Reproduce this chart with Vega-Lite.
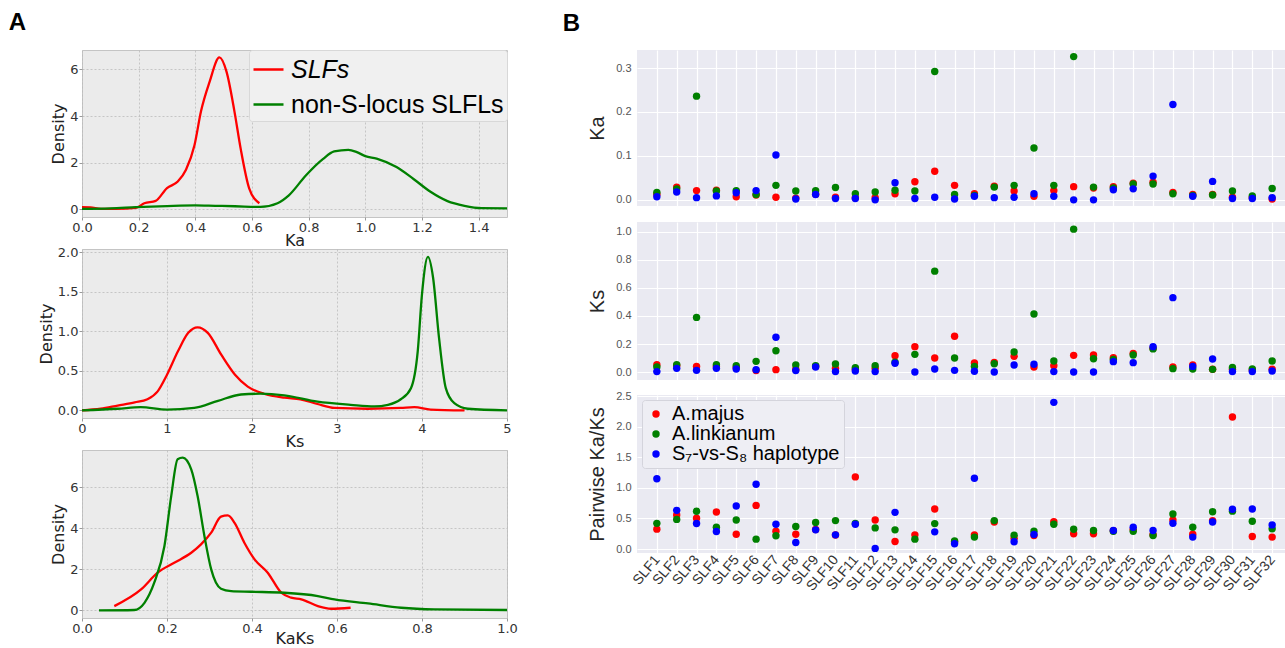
{
  "$schema": "https://vega.github.io/schema/vega-lite/v6.json",
  "padding": {"left": 8, "top": 11, "right": 2, "bottom": 0},
  "background": "white",
  "config": {
    "view": {"stroke": null},
    "font": "Liberation Sans",
    "axis": {
      "labelFont": "DejaVu Sans", "labelFontSize": 13, "labelColor": "#333333",
      "titleFont": "DejaVu Sans", "titleFontSize": 16, "titleFontWeight": "normal", "titleColor": "#222222",
      "labelPadding": 1, "tickSize": 3, "tickColor": "#999999", "domain": false,
      "gridColor": "#bbbbbb", "gridDash": [2, 2], "gridWidth": 0.8,
      "labelFlush": false, "labelOverlap": false
    },
    "axisX": {"titlePadding": -2},
    "axisY": {"titlePadding": 3}
  },
  "datasets": {
    "dens": [
      {"v":"Ka","g":"SLFs","x":0,"d":0.09},{"v":"Ka","g":"SLFs","x":0.03,"d":0.08},{"v":"Ka","g":"SLFs","x":0.067,"d":0.02},{"v":"Ka","g":"SLFs","x":0.12,"d":0.02},{"v":"Ka","g":"SLFs","x":0.19,"d":0.06},{"v":"Ka","g":"SLFs","x":0.22,"d":0.26},{"v":"Ka","g":"SLFs","x":0.26,"d":0.36},{"v":"Ka","g":"SLFs","x":0.30,"d":0.91},{"v":"Ka","g":"SLFs","x":0.338,"d":1.19},{"v":"Ka","g":"SLFs","x":0.367,"d":1.7},{"v":"Ka","g":"SLFs","x":0.397,"d":2.75},{"v":"Ka","g":"SLFs","x":0.42,"d":4.2},{"v":"Ka","g":"SLFs","x":0.45,"d":5.45},{"v":"Ka","g":"SLFs","x":0.485,"d":6.51},{"v":"Ka","g":"SLFs","x":0.51,"d":5.9},{"v":"Ka","g":"SLFs","x":0.538,"d":4.2},{"v":"Ka","g":"SLFs","x":0.56,"d":2.6},{"v":"Ka","g":"SLFs","x":0.59,"d":0.9},{"v":"Ka","g":"SLFs","x":0.626,"d":0.26},
      {"v":"Ka","g":"non-S-locus SLFLs","x":0,"d":0.02},{"v":"Ka","g":"non-S-locus SLFLs","x":0.1,"d":0.04},{"v":"Ka","g":"non-S-locus SLFLs","x":0.19,"d":0.09},{"v":"Ka","g":"non-S-locus SLFLs","x":0.3,"d":0.14},{"v":"Ka","g":"non-S-locus SLFLs","x":0.4,"d":0.17},{"v":"Ka","g":"non-S-locus SLFLs","x":0.47,"d":0.15},{"v":"Ka","g":"non-S-locus SLFLs","x":0.54,"d":0.13},{"v":"Ka","g":"non-S-locus SLFLs","x":0.63,"d":0.1},{"v":"Ka","g":"non-S-locus SLFLs","x":0.69,"d":0.26},{"v":"Ka","g":"non-S-locus SLFLs","x":0.73,"d":0.6},{"v":"Ka","g":"non-S-locus SLFLs","x":0.79,"d":1.45},{"v":"Ka","g":"non-S-locus SLFLs","x":0.85,"d":2.15},{"v":"Ka","g":"non-S-locus SLFLs","x":0.89,"d":2.48},{"v":"Ka","g":"non-S-locus SLFLs","x":0.94,"d":2.55},{"v":"Ka","g":"non-S-locus SLFLs","x":0.97,"d":2.45},{"v":"Ka","g":"non-S-locus SLFLs","x":1.0,"d":2.28},{"v":"Ka","g":"non-S-locus SLFLs","x":1.04,"d":2.17},{"v":"Ka","g":"non-S-locus SLFLs","x":1.11,"d":1.81},{"v":"Ka","g":"non-S-locus SLFLs","x":1.17,"d":1.3},{"v":"Ka","g":"non-S-locus SLFLs","x":1.23,"d":0.75},{"v":"Ka","g":"non-S-locus SLFLs","x":1.29,"d":0.35},{"v":"Ka","g":"non-S-locus SLFLs","x":1.35,"d":0.15},{"v":"Ka","g":"non-S-locus SLFLs","x":1.41,"d":0.05},{"v":"Ka","g":"non-S-locus SLFLs","x":1.5,"d":0.04},
      {"v":"Ks","g":"SLFs","x":0,"d":0},{"v":"Ks","g":"SLFs","x":0.22,"d":0.02},{"v":"Ks","g":"SLFs","x":0.42,"d":0.06},{"v":"Ks","g":"SLFs","x":0.62,"d":0.1},{"v":"Ks","g":"SLFs","x":0.77,"d":0.14},{"v":"Ks","g":"SLFs","x":0.89,"d":0.24},{"v":"Ks","g":"SLFs","x":1.0,"d":0.45},{"v":"Ks","g":"SLFs","x":1.13,"d":0.75},{"v":"Ks","g":"SLFs","x":1.25,"d":0.98},{"v":"Ks","g":"SLFs","x":1.36,"d":1.05},{"v":"Ks","g":"SLFs","x":1.48,"d":0.98},{"v":"Ks","g":"SLFs","x":1.64,"d":0.7},{"v":"Ks","g":"SLFs","x":1.8,"d":0.45},{"v":"Ks","g":"SLFs","x":1.95,"d":0.3},{"v":"Ks","g":"SLFs","x":2.14,"d":0.21},{"v":"Ks","g":"SLFs","x":2.38,"d":0.16},{"v":"Ks","g":"SLFs","x":2.57,"d":0.14},{"v":"Ks","g":"SLFs","x":2.77,"d":0.08},{"v":"Ks","g":"SLFs","x":2.97,"d":0.03},{"v":"Ks","g":"SLFs","x":3.36,"d":0.02},{"v":"Ks","g":"SLFs","x":3.75,"d":0.03},{"v":"Ks","g":"SLFs","x":3.91,"d":0.04},{"v":"Ks","g":"SLFs","x":4.1,"d":0.01},{"v":"Ks","g":"SLFs","x":4.5,"d":0.0},
      {"v":"Ks","g":"non-S-locus SLFLs","x":0,"d":0},{"v":"Ks","g":"non-S-locus SLFLs","x":0.42,"d":0.02},{"v":"Ks","g":"non-S-locus SLFLs","x":0.69,"d":0.04},{"v":"Ks","g":"non-S-locus SLFLs","x":1.0,"d":0.01},{"v":"Ks","g":"non-S-locus SLFLs","x":1.32,"d":0.03},{"v":"Ks","g":"non-S-locus SLFLs","x":1.6,"d":0.12},{"v":"Ks","g":"non-S-locus SLFLs","x":1.87,"d":0.2},{"v":"Ks","g":"non-S-locus SLFLs","x":2.1,"d":0.21},{"v":"Ks","g":"non-S-locus SLFLs","x":2.38,"d":0.19},{"v":"Ks","g":"non-S-locus SLFLs","x":2.77,"d":0.11},{"v":"Ks","g":"non-S-locus SLFLs","x":3.16,"d":0.07},{"v":"Ks","g":"non-S-locus SLFLs","x":3.44,"d":0.05},{"v":"Ks","g":"non-S-locus SLFLs","x":3.6,"d":0.07},{"v":"Ks","g":"non-S-locus SLFLs","x":3.75,"d":0.14},{"v":"Ks","g":"non-S-locus SLFLs","x":3.87,"d":0.28},{"v":"Ks","g":"non-S-locus SLFLs","x":3.95,"d":0.75},{"v":"Ks","g":"non-S-locus SLFLs","x":4.0,"d":1.47},{"v":"Ks","g":"non-S-locus SLFLs","x":4.07,"d":1.94},{"v":"Ks","g":"non-S-locus SLFLs","x":4.13,"d":1.68},{"v":"Ks","g":"non-S-locus SLFLs","x":4.2,"d":0.92},{"v":"Ks","g":"non-S-locus SLFLs","x":4.28,"d":0.28},{"v":"Ks","g":"non-S-locus SLFLs","x":4.38,"d":0.09},{"v":"Ks","g":"non-S-locus SLFLs","x":4.54,"d":0.02},{"v":"Ks","g":"non-S-locus SLFLs","x":5.0,"d":0.0},
      {"v":"KaKs","g":"SLFs","x":0.076,"d":0.21},{"v":"KaKs","g":"SLFs","x":0.139,"d":1.02},{"v":"KaKs","g":"SLFs","x":0.178,"d":1.84},{"v":"KaKs","g":"SLFs","x":0.217,"d":2.32},{"v":"KaKs","g":"SLFs","x":0.257,"d":2.81},{"v":"KaKs","g":"SLFs","x":0.28,"d":3.22},{"v":"KaKs","g":"SLFs","x":0.304,"d":3.79},{"v":"KaKs","g":"SLFs","x":0.327,"d":4.57},{"v":"KaKs","g":"SLFs","x":0.343,"d":4.63},{"v":"KaKs","g":"SLFs","x":0.359,"d":4.27},{"v":"KaKs","g":"SLFs","x":0.382,"d":3.3},{"v":"KaKs","g":"SLFs","x":0.406,"d":2.49},{"v":"KaKs","g":"SLFs","x":0.437,"d":1.84},{"v":"KaKs","g":"SLFs","x":0.469,"d":0.86},{"v":"KaKs","g":"SLFs","x":0.492,"d":0.62},{"v":"KaKs","g":"SLFs","x":0.516,"d":0.54},{"v":"KaKs","g":"SLFs","x":0.555,"d":0.21},{"v":"KaKs","g":"SLFs","x":0.586,"d":0.08},{"v":"KaKs","g":"SLFs","x":0.632,"d":0.13},
      {"v":"KaKs","g":"non-S-locus SLFLs","x":0.04,"d":0},{"v":"KaKs","g":"non-S-locus SLFLs","x":0.123,"d":0.02},{"v":"KaKs","g":"non-S-locus SLFLs","x":0.147,"d":0.37},{"v":"KaKs","g":"non-S-locus SLFLs","x":0.17,"d":1.35},{"v":"KaKs","g":"non-S-locus SLFLs","x":0.194,"d":3.14},{"v":"KaKs","g":"non-S-locus SLFLs","x":0.21,"d":5.58},{"v":"KaKs","g":"non-S-locus SLFLs","x":0.225,"d":7.37},{"v":"KaKs","g":"non-S-locus SLFLs","x":0.237,"d":7.45},{"v":"KaKs","g":"non-S-locus SLFLs","x":0.257,"d":6.88},{"v":"KaKs","g":"non-S-locus SLFLs","x":0.272,"d":5.58},{"v":"KaKs","g":"non-S-locus SLFLs","x":0.288,"d":3.63},{"v":"KaKs","g":"non-S-locus SLFLs","x":0.304,"d":2.0},{"v":"KaKs","g":"non-S-locus SLFLs","x":0.327,"d":1.06},{"v":"KaKs","g":"non-S-locus SLFLs","x":0.351,"d":0.94},{"v":"KaKs","g":"non-S-locus SLFLs","x":0.398,"d":0.91},{"v":"KaKs","g":"non-S-locus SLFLs","x":0.476,"d":0.86},{"v":"KaKs","g":"non-S-locus SLFLs","x":0.555,"d":0.7},{"v":"KaKs","g":"non-S-locus SLFLs","x":0.594,"d":0.54},{"v":"KaKs","g":"non-S-locus SLFLs","x":0.673,"d":0.34},{"v":"KaKs","g":"non-S-locus SLFLs","x":0.751,"d":0.13},{"v":"KaKs","g":"non-S-locus SLFLs","x":0.829,"d":0.05},{"v":"KaKs","g":"non-S-locus SLFLs","x":1.0,"d":0.02}
    ],
    "pts": [
      {"slf":"SLF1","s":"A.majus","Ka":0.012,"Ks":0.052,"KaKs":0.325},{"slf":"SLF1","s":"A.linkianum","Ka":0.017,"Ks":0.036,"KaKs":0.42},{"slf":"SLF1","s":"S₇-vs-S₈ haplotype","Ka":0.007,"Ks":0.003,"KaKs":1.15},
      {"slf":"SLF2","s":"A.majus","Ka":0.029,"Ks":0.045,"KaKs":0.556},{"slf":"SLF2","s":"A.linkianum","Ka":0.025,"Ks":0.052,"KaKs":0.485},{"slf":"SLF2","s":"S₇-vs-S₈ haplotype","Ka":0.018,"Ks":0.026,"KaKs":0.633},
      {"slf":"SLF3","s":"A.majus","Ka":0.021,"Ks":0.04,"KaKs":0.503},{"slf":"SLF3","s":"A.linkianum","Ka":0.236,"Ks":0.39,"KaKs":0.617},{"slf":"SLF3","s":"S₇-vs-S₈ haplotype","Ka":0.005,"Ks":0.012,"KaKs":0.417},
      {"slf":"SLF4","s":"A.majus","Ka":0.022,"Ks":0.04,"KaKs":0.606},{"slf":"SLF4","s":"A.linkianum","Ka":0.02,"Ks":0.052,"KaKs":0.357},{"slf":"SLF4","s":"S₇-vs-S₈ haplotype","Ka":0.009,"Ks":0.026,"KaKs":0.286},
      {"slf":"SLF5","s":"A.majus","Ka":0.007,"Ks":0.03,"KaKs":0.243},{"slf":"SLF5","s":"A.linkianum","Ka":0.021,"Ks":0.045,"KaKs":0.476},{"slf":"SLF5","s":"S₇-vs-S₈ haplotype","Ka":0.016,"Ks":0.021,"KaKs":0.703},
      {"slf":"SLF6","s":"A.majus","Ka":0.011,"Ks":0.01,"KaKs":0.714},{"slf":"SLF6","s":"A.linkianum","Ka":0.012,"Ks":0.076,"KaKs":0.162},{"slf":"SLF6","s":"S₇-vs-S₈ haplotype","Ka":0.021,"Ks":0.017,"KaKs":1.06},
      {"slf":"SLF7","s":"A.majus","Ka":0.006,"Ks":0.017,"KaKs":0.292},{"slf":"SLF7","s":"A.linkianum","Ka":0.033,"Ks":0.152,"KaKs":0.216},{"slf":"SLF7","s":"S₇-vs-S₈ haplotype","Ka":0.102,"Ks":0.248,"KaKs":0.406},
      {"slf":"SLF8","s":"A.majus","Ka":0.004,"Ks":0.02,"KaKs":0.243},{"slf":"SLF8","s":"A.linkianum","Ka":0.02,"Ks":0.05,"KaKs":0.368},{"slf":"SLF8","s":"S₇-vs-S₈ haplotype","Ka":0.002,"Ks":0.01,"KaKs":0.108},
      {"slf":"SLF9","s":"A.majus","Ka":0.013,"Ks":0.04,"KaKs":0.32},{"slf":"SLF9","s":"A.linkianum","Ka":0.021,"Ks":0.045,"KaKs":0.433},{"slf":"SLF9","s":"S₇-vs-S₈ haplotype","Ka":0.012,"Ks":0.036,"KaKs":0.314},
      {"slf":"SLF10","s":"A.majus","Ka":0.006,"Ks":0.026,"KaKs":0.23},{"slf":"SLF10","s":"A.linkianum","Ka":0.028,"Ks":0.057,"KaKs":0.465},{"slf":"SLF10","s":"S₇-vs-S₈ haplotype","Ka":0.003,"Ks":0.003,"KaKs":0.232},
      {"slf":"SLF11","s":"A.majus","Ka":0.005,"Ks":0.02,"KaKs":1.18},{"slf":"SLF11","s":"A.linkianum","Ka":0.014,"Ks":0.031,"KaKs":0.42},{"slf":"SLF11","s":"S₇-vs-S₈ haplotype","Ka":0.003,"Ks":0.007,"KaKs":0.406},
      {"slf":"SLF12","s":"A.majus","Ka":0.005,"Ks":0.026,"KaKs":0.476},{"slf":"SLF12","s":"A.linkianum","Ka":0.018,"Ks":0.045,"KaKs":0.346},{"slf":"SLF12","s":"S₇-vs-S₈ haplotype","Ka":0.0,"Ks":0.003,"KaKs":0.01},
      {"slf":"SLF13","s":"A.majus","Ka":0.014,"Ks":0.117,"KaKs":0.124},{"slf":"SLF13","s":"A.linkianum","Ka":0.022,"Ks":0.07,"KaKs":0.314},{"slf":"SLF13","s":"S₇-vs-S₈ haplotype","Ka":0.039,"Ks":0.062,"KaKs":0.6},
      {"slf":"SLF14","s":"A.majus","Ka":0.041,"Ks":0.181,"KaKs":0.232},{"slf":"SLF14","s":"A.linkianum","Ka":0.02,"Ks":0.126,"KaKs":0.162},{"slf":"SLF14","s":"S₇-vs-S₈ haplotype","Ka":0.003,"Ks":0.0,"KaKs":null},
      {"slf":"SLF15","s":"A.majus","Ka":0.065,"Ks":0.1,"KaKs":0.654},{"slf":"SLF15","s":"A.linkianum","Ka":0.292,"Ks":0.72,"KaKs":0.416},{"slf":"SLF15","s":"S₇-vs-S₈ haplotype","Ka":0.006,"Ks":0.021,"KaKs":0.281},
      {"slf":"SLF16","s":"A.majus","Ka":0.033,"Ks":0.255,"KaKs":0.12},{"slf":"SLF16","s":"A.linkianum","Ka":0.012,"Ks":0.1,"KaKs":0.13},{"slf":"SLF16","s":"S₇-vs-S₈ haplotype","Ka":0.002,"Ks":0.012,"KaKs":0.085},
      {"slf":"SLF17","s":"A.majus","Ka":0.014,"Ks":0.064,"KaKs":0.232},{"slf":"SLF17","s":"A.linkianum","Ka":0.01,"Ks":0.04,"KaKs":0.195},{"slf":"SLF17","s":"S₇-vs-S₈ haplotype","Ka":0.008,"Ks":0.005,"KaKs":1.157},
      {"slf":"SLF18","s":"A.majus","Ka":0.031,"Ks":0.069,"KaKs":0.443},{"slf":"SLF18","s":"A.linkianum","Ka":0.029,"Ks":0.059,"KaKs":0.465},{"slf":"SLF18","s":"S₇-vs-S₈ haplotype","Ka":0.005,"Ks":0.0,"KaKs":null},
      {"slf":"SLF19","s":"A.majus","Ka":0.02,"Ks":0.112,"KaKs":0.178},{"slf":"SLF19","s":"A.linkianum","Ka":0.033,"Ks":0.143,"KaKs":0.227},{"slf":"SLF19","s":"S₇-vs-S₈ haplotype","Ka":0.006,"Ks":0.05,"KaKs":0.119},
      {"slf":"SLF20","s":"A.majus","Ka":0.008,"Ks":0.036,"KaKs":0.22},{"slf":"SLF20","s":"A.linkianum","Ka":0.118,"Ks":0.414,"KaKs":0.292},{"slf":"SLF20","s":"S₇-vs-S₈ haplotype","Ka":0.014,"Ks":0.055,"KaKs":0.238},
      {"slf":"SLF21","s":"A.majus","Ka":0.021,"Ks":0.045,"KaKs":0.449},{"slf":"SLF21","s":"A.linkianum","Ka":0.033,"Ks":0.079,"KaKs":0.406},{"slf":"SLF21","s":"S₇-vs-S₈ haplotype","Ka":0.008,"Ks":0.003,"KaKs":2.4},
      {"slf":"SLF22","s":"A.majus","Ka":0.03,"Ks":0.119,"KaKs":0.249},{"slf":"SLF22","s":"A.linkianum","Ka":0.326,"Ks":1.02,"KaKs":0.324},{"slf":"SLF22","s":"S₇-vs-S₈ haplotype","Ka":0.0,"Ks":0.0,"KaKs":null},
      {"slf":"SLF23","s":"A.majus","Ka":0.027,"Ks":0.121,"KaKs":0.249},{"slf":"SLF23","s":"A.linkianum","Ka":0.029,"Ks":0.095,"KaKs":0.303},{"slf":"SLF23","s":"S₇-vs-S₈ haplotype","Ka":0.0,"Ks":0.0,"KaKs":null},
      {"slf":"SLF24","s":"A.majus","Ka":0.03,"Ks":0.102,"KaKs":0.3},{"slf":"SLF24","s":"A.linkianum","Ka":0.027,"Ks":0.09,"KaKs":0.29},{"slf":"SLF24","s":"S₇-vs-S₈ haplotype","Ka":0.023,"Ks":0.074,"KaKs":0.303},
      {"slf":"SLF25","s":"A.majus","Ka":0.038,"Ks":0.133,"KaKs":0.32},{"slf":"SLF25","s":"A.linkianum","Ka":0.036,"Ks":0.121,"KaKs":0.292},{"slf":"SLF25","s":"S₇-vs-S₈ haplotype","Ka":0.025,"Ks":0.067,"KaKs":0.357},
      {"slf":"SLF26","s":"A.majus","Ka":0.04,"Ks":0.17,"KaKs":0.235},{"slf":"SLF26","s":"A.linkianum","Ka":0.036,"Ks":0.165,"KaKs":0.222},{"slf":"SLF26","s":"S₇-vs-S₈ haplotype","Ka":0.054,"Ks":0.181,"KaKs":0.303},
      {"slf":"SLF27","s":"A.majus","Ka":0.017,"Ks":0.036,"KaKs":0.476},{"slf":"SLF27","s":"A.linkianum","Ka":0.014,"Ks":0.024,"KaKs":0.573},{"slf":"SLF27","s":"S₇-vs-S₈ haplotype","Ka":0.217,"Ks":0.531,"KaKs":0.422},
      {"slf":"SLF28","s":"A.majus","Ka":0.012,"Ks":0.05,"KaKs":0.243},{"slf":"SLF28","s":"A.linkianum","Ka":0.01,"Ks":0.021,"KaKs":0.357},{"slf":"SLF28","s":"S₇-vs-S₈ haplotype","Ka":0.008,"Ks":0.04,"KaKs":0.195},
      {"slf":"SLF29","s":"A.majus","Ka":0.012,"Ks":0.02,"KaKs":0.465},{"slf":"SLF29","s":"A.linkianum","Ka":0.011,"Ks":0.019,"KaKs":0.611},{"slf":"SLF29","s":"S₇-vs-S₈ haplotype","Ka":0.042,"Ks":0.093,"KaKs":0.443},
      {"slf":"SLF30","s":"A.majus","Ka":0.006,"Ks":0.02,"KaKs":2.16},{"slf":"SLF30","s":"A.linkianum","Ka":0.02,"Ks":0.033,"KaKs":0.62},{"slf":"SLF30","s":"S₇-vs-S₈ haplotype","Ka":0.003,"Ks":0.003,"KaKs":0.65},
      {"slf":"SLF31","s":"A.majus","Ka":0.005,"Ks":0.015,"KaKs":0.205},{"slf":"SLF31","s":"A.linkianum","Ka":0.009,"Ks":0.021,"KaKs":0.454},{"slf":"SLF31","s":"S₇-vs-S₈ haplotype","Ka":0.003,"Ks":0.003,"KaKs":0.654},
      {"slf":"SLF32","s":"A.majus","Ka":0.002,"Ks":0.02,"KaKs":0.195},{"slf":"SLF32","s":"A.linkianum","Ka":0.026,"Ks":0.079,"KaKs":0.33},{"slf":"SLF32","s":"S₇-vs-S₈ haplotype","Ka":0.005,"Ks":0.007,"KaKs":0.395}
    ]
  },
  "spacing": 44,
  "hconcat": [
    {
      "title": {"text": "A", "anchor": "start", "frame": "bounds", "fontSize": 24, "fontWeight": "bold", "font": "Liberation Sans", "color": "black", "offset": 14, "dx": -29},
      "spacing": -4,
      "resolve": {"scale": {"color": "independent"}, "legend": {"color": "independent"}},
      "vconcat": [
        {
          "width": 425, "height": 167,
          "view": {"fill": "#ebebeb", "stroke": "#c4c4c4"},
          "data": {"name": "dens"},
          "transform": [{"filter": "datum.v === 'Ka'"}],
          "mark": {"type": "line", "interpolate": "monotone", "strokeWidth": 2.3},
          "encoding": {
            "x": {"field": "x", "type": "quantitative", "scale": {"domain": [0, 1.5], "nice": false, "zero": false}, "axis": {"title": "Ka", "values": [0, 0.2, 0.4, 0.6, 0.8, 1.0, 1.2, 1.4], "format": ".1f"}},
            "y": {"field": "d", "type": "quantitative", "scale": {"domain": [-0.33, 6.83], "nice": false, "zero": false}, "axis": {"title": "Density", "values": [0, 2, 4, 6], "format": "d"}},
            "color": {"field": "g", "type": "nominal", "sort": null, "scale": {"domain": ["SLFs", "non-S-locus SLFLs"], "range": ["#ff0000", "#008000"]},
              "legend": {"title": null, "orient": "top-right", "offset": 0, "symbolType": "stroke", "symbolSize": 900, "symbolStrokeWidth": 2.5, "labelFontSize": 25, "labelFont": "Liberation Sans", "labelColor": "black", "labelLimit": 400, "labelOffset": 6, "fillColor": "#f0f0f0", "strokeColor": "#d8d8d8", "cornerRadius": 3, "padding": 3, "rowPadding": 5,
                "encode": {"labels": {"update": {"fontStyle": {"signal": "datum.label === 'SLFs' ? 'italic' : 'normal'"}}}}}}
          }
        },
        {
          "width": 425, "height": 169,
          "view": {"fill": "#ebebeb", "stroke": "#c4c4c4"},
          "data": {"name": "dens"},
          "transform": [{"filter": "datum.v === 'Ks'"}],
          "mark": {"type": "line", "interpolate": "monotone", "strokeWidth": 2.3},
          "encoding": {
            "x": {"field": "x", "type": "quantitative", "scale": {"domain": [0, 5], "nice": false, "zero": false}, "axis": {"title": "Ks", "values": [0, 1, 2, 3, 4, 5], "format": "d"}},
            "y": {"field": "d", "type": "quantitative", "scale": {"domain": [-0.097, 2.04], "nice": false, "zero": false}, "axis": {"title": "Density", "values": [0, 0.5, 1, 1.5, 2], "format": ".1f"}},
            "color": {"field": "g", "type": "nominal", "sort": null, "scale": {"domain": ["SLFs", "non-S-locus SLFLs"], "range": ["#ff0000", "#008000"]}, "legend": null}
          }
        },
        {
          "width": 425, "height": 168,
          "view": {"fill": "#ebebeb", "stroke": "#c4c4c4"},
          "data": {"name": "dens"},
          "transform": [{"filter": "datum.v === 'KaKs'"}],
          "mark": {"type": "line", "interpolate": "monotone", "strokeWidth": 2.3},
          "encoding": {
            "x": {"field": "x", "type": "quantitative", "scale": {"domain": [0, 1], "nice": false, "zero": false}, "axis": {"title": "KaKs", "titlePadding": -5, "values": [0, 0.2, 0.4, 0.6, 0.8, 1.0], "format": ".1f"}},
            "y": {"field": "d", "type": "quantitative", "scale": {"domain": [-0.37, 7.82], "nice": false, "zero": false}, "axis": {"title": "Density", "values": [0, 2, 4, 6], "format": "d"}},
            "color": {"field": "g", "type": "nominal", "sort": null, "scale": {"domain": ["SLFs", "non-S-locus SLFLs"], "range": ["#ff0000", "#008000"]}, "legend": null}
          }
        }
      ]
    },
    {
      "title": {"text": "B", "anchor": "start", "frame": "bounds", "fontSize": 24, "fontWeight": "bold", "font": "Liberation Sans", "color": "black", "offset": 14, "dx": -25},
      "spacing": 16,
      "resolve": {"scale": {"color": "independent"}, "legend": {"color": "independent"}},
      "vconcat": [
        {
          "width": 655, "height": 156,
          "view": {"fill": "#eaeaf2", "stroke": null},
          "data": {"name": "pts"},
          "mark": {"type": "circle", "size": 55, "opacity": 1},
          "encoding": {
            "x": {"field": "slf", "type": "nominal", "sort": null, "scale": {"type": "point", "padding": 1.5}, "axis": {"title": null, "labels": false, "ticks": false, "grid": true, "gridColor": "white", "gridDash": [], "gridWidth": 1.2}},
            "y": {"field": "Ka", "type": "quantitative", "scale": {"domain": [-0.014, 0.341], "nice": false, "zero": false}, "axis": {"title": "Ka", "values": [0, 0.1, 0.2, 0.3], "format": ".1f", "labelFont": "Liberation Sans", "labelFontSize": 11, "labelColor": "#555555", "titleFont": "Liberation Sans", "titleFontSize": 20, "titleColor": "#262626", "ticks": false, "gridColor": "white", "gridDash": [], "gridWidth": 1.2, "labelPadding": 6, "titlePadding": 8}},
            "color": {"field": "s", "type": "nominal", "sort": null, "scale": {"domain": ["A.majus", "A.linkianum", "S₇-vs-S₈ haplotype"], "range": ["#ff0000", "#008000", "#0000ff"]}, "legend": null}
          }
        },
        {
          "spacing": 10,
          "resolve": {"scale": {"color": "independent"}, "legend": {"color": "independent"}},
          "vconcat": [
            {
              "width": 655, "height": 158,
              "view": {"fill": "#eaeaf2", "stroke": null},
              "data": {"name": "pts"},
              "mark": {"type": "circle", "size": 55, "opacity": 1},
              "encoding": {
                "x": {"field": "slf", "type": "nominal", "sort": null, "scale": {"type": "point", "padding": 1.5}, "axis": {"title": null, "labels": false, "ticks": false, "grid": true, "gridColor": "white", "gridDash": [], "gridWidth": 1.2}},
                "y": {"field": "Ks", "type": "quantitative", "scale": {"domain": [-0.057, 1.071], "nice": false, "zero": false}, "axis": {"title": "Ks", "values": [0, 0.2, 0.4, 0.6, 0.8, 1.0], "format": ".1f", "labelFont": "Liberation Sans", "labelFontSize": 11, "labelColor": "#555555", "titleFont": "Liberation Sans", "titleFontSize": 20, "titleColor": "#262626", "ticks": false, "gridColor": "white", "gridDash": [], "gridWidth": 1.2, "labelPadding": 6, "titlePadding": 8}},
                "color": {"field": "s", "type": "nominal", "sort": null, "scale": {"domain": ["A.majus", "A.linkianum", "S₇-vs-S₈ haplotype"], "range": ["#ff0000", "#008000", "#0000ff"]}, "legend": null}
              }
            },
            {
              "width": 655, "height": 158,
              "view": {"fill": "#eaeaf2", "stroke": null},
              "data": {"name": "pts"},
              "mark": {"type": "circle", "size": 55, "opacity": 1},
              "encoding": {
                "x": {"field": "slf", "type": "nominal", "sort": null, "scale": {"type": "point", "padding": 1.5}, "axis": {"title": null, "labels": true, "labelAngle": -50, "labelFont": "Liberation Sans", "labelFontSize": 14, "labelColor": "#333333", "labelPadding": 4, "ticks": false, "grid": true, "gridColor": "white", "gridDash": [], "gridWidth": 1.2}},
                "y": {"field": "KaKs", "type": "quantitative", "scale": {"domain": [-0.065, 2.52], "nice": false, "zero": false}, "axis": {"title": "Pairwise Ka/Ks", "values": [0, 0.5, 1.0, 1.5, 2.0, 2.5], "format": ".1f", "labelFont": "Liberation Sans", "labelFontSize": 11, "labelColor": "#555555", "titleFont": "Liberation Sans", "titleFontSize": 20, "titleColor": "#262626", "ticks": false, "gridColor": "white", "gridDash": [], "gridWidth": 1.2, "labelPadding": 6, "titlePadding": 8}},
                "color": {"field": "s", "type": "nominal", "sort": null, "scale": {"domain": ["A.majus", "A.linkianum", "S₇-vs-S₈ haplotype"], "range": ["#ff0000", "#008000", "#0000ff"]},
                  "legend": {"title": null, "orient": "top-left", "offset": 5, "symbolType": "circle", "symbolSize": 55, "labelFontSize": 20, "labelFont": "Liberation Sans", "labelColor": "black", "labelLimit": 400, "labelOffset": 6, "fillColor": "#eeeef4", "strokeColor": "#d4d4dc", "cornerRadius": 3, "padding": 4, "rowPadding": -1,
                    "encode": {"labels": {"update": {"fontStyle": {"signal": "datum.label === 'S₇-vs-S₈ haplotype' ? 'normal' : 'italic'"}}}}}}
              }
            }
          ]
        }
      ]
    }
  ]
}
